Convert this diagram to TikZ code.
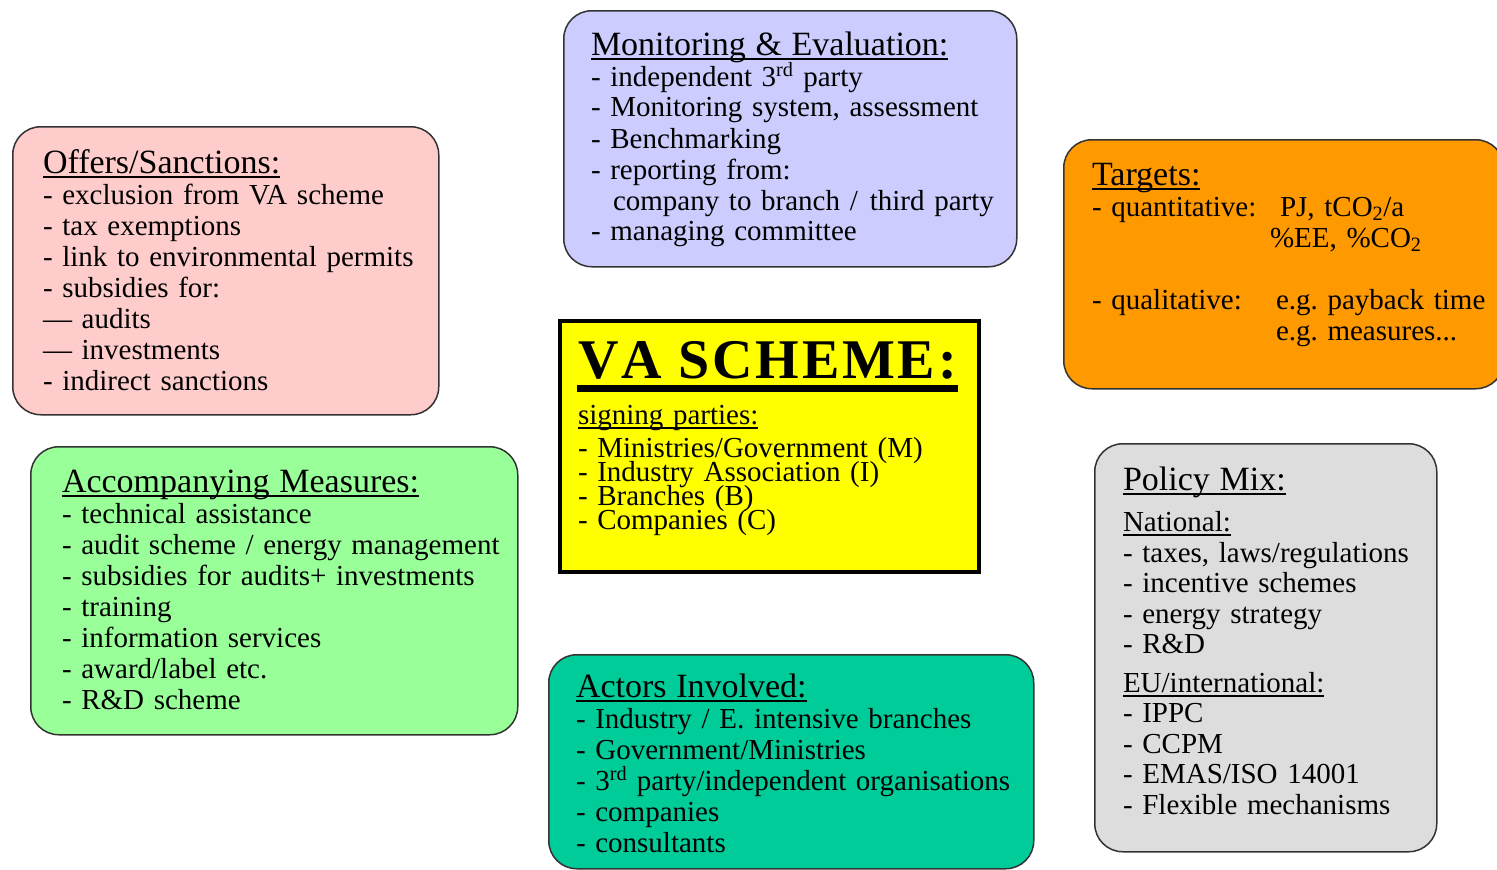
\documentclass[tikz,border=0pt]{standalone}
\usepackage{fontspec}
\setmainfont{Liberation Serif}
\definecolor{pinkc}{HTML}{FFCCCC}
\definecolor{lavc}{HTML}{CCCCFF}
\definecolor{orngc}{HTML}{FF9900}
\definecolor{lgreenc}{HTML}{99FF99}
\definecolor{tealc}{HTML}{00CC99}
\definecolor{greyc}{HTML}{DDDDDD}
\definecolor{yellc}{HTML}{FFFF00}
\frenchspacing
\newcommand\itemf{\fontsize{29}{31}\selectfont\lineskiplimit=-100pt\relax\frenchspacing}
\newcommand\polf{\fontsize{29}{30.5}\selectfont\lineskiplimit=-100pt\relax\frenchspacing}
\newcommand\vaf{\fontsize{29}{24}\selectfont\lineskiplimit=-100pt\relax\frenchspacing}
\newcommand\titlef{\fontsize{34}{36}\selectfont}
\newsavebox\ulnbox
\newcommand\uln[1]{\leavevmode\sbox\ulnbox{#1}\rlap{\rule[-4.5pt]{\wd\ulnbox}{1.6pt}}\usebox\ulnbox}
\newcommand\ttl[1]{{\titlef\uln{#1}}}
\begin{document}
\begin{tikzpicture}[x=1pt,y=-1pt,
  panel/.style={draw=black!80, line width=1.5pt, rounded corners=28pt, anchor=north west, inner sep=0pt},
  txt/.style={anchor=base west, inner sep=0pt, outer sep=0pt, align=left, text width=560pt, font=\itemf}]
\useasboundingbox (0,0) rectangle (1497,870);
\fill[white] (0,0) rectangle (1497,870);
\clip (0,0) rectangle (1497,870);

% boxes
\node[panel, fill=pinkc, minimum width=426pt, minimum height=288pt] (offers) at (12,126) {};
\node[panel, fill=lavc, minimum width=453pt, minimum height=256pt] (monit) at (563,10) {};
\node[panel, fill=orngc, minimum width=440pt, minimum height=249pt] (targets) at (1063,139) {};
\node[panel, fill=lgreenc, minimum width=487pt, minimum height=288pt] (accomp) at (30,446) {};
\node[panel, fill=tealc, minimum width=485pt, minimum height=214pt] (actors) at (548,654) {};
\node[panel, fill=greyc, minimum width=342pt, minimum height=408pt] (policy) at (1094,443) {};
\node[draw=black, line width=4pt, fill=yellc, anchor=north west, inner sep=0pt, minimum width=419pt, minimum height=251pt] (va) at (558,319) {};

% texts
\node[txt] (offersT) at (43,173) {\ttl{Offers/Sanctions:}\\
- exclusion from VA scheme\\
- tax exemptions\\
- link to environmental permits\\
- subsidies for:\\
--- audits\\
--- investments\\
- indirect sanctions};

\node[txt] (monitT) at (591,55) {\ttl{Monitoring \& Evaluation:}\\
- independent 3\textsuperscript{rd} party\\
- Monitoring system, assessment\\
- Benchmarking\\
- reporting from:\\
\hspace*{22pt}company to branch /\hspace{12pt}third party\\
- managing committee};

\node[txt] (targetsT) at (1092,185) {\ttl{Targets:}\\
\makebox[188pt][l]{- quantitative:}PJ, tCO\textsubscript{2}/a\\
\hspace*{178pt}\%EE, \%CO\textsubscript{2}\\
\mbox{}\\
\makebox[184pt][l]{- qualitative:}e.g. payback time\\
\hspace*{184pt}e.g. measures...};

\node[txt] (accompT) at (62,492) {\ttl{Accompanying Measures:}\\
- technical assistance\\
- audit scheme / energy management\\
- subsidies for audits+ investments\\
- training\\
- information services\\
- award/label etc.\\
- R\&D scheme};

\node[txt] (actorsT) at (576,697) {\ttl{Actors Involved:}\\
- Industry / E. intensive branches\\
- Government/Ministries\\
- 3\textsuperscript{rd} party/independent organisations\\
- companies\\
- consultants};

\node[txt, font=\polf] (policyT) at (1123,490) {\ttl{Policy Mix:}\\[11pt]
\uln{National:}\\
- taxes, laws/regulations\\
- incentive schemes\\
- energy strategy\\
- R\&D\\[8pt]
\uln{EU/international:}\\
- IPPC\\
- CCPM\\
- EMAS/ISO 14001\\
- Flexible mechanisms};

\node[anchor=base west, inner sep=0pt, font=\bfseries\fontsize{56}{56}\selectfont\addfontfeatures{LetterSpace=5,Kerning=Off}] (vahead) at (578,378) {VA SCHEME:};
\fill (577,385) rectangle (958,392);
\node[txt, font=\vaf] (vaparties) at (578,424) {\uln{signing parties:}\\[9pt]
- Ministries/Government (M)\\
- Industry Association (I)\\
- Branches (B)\\
- Companies (C)};
\end{tikzpicture}
\end{document}
